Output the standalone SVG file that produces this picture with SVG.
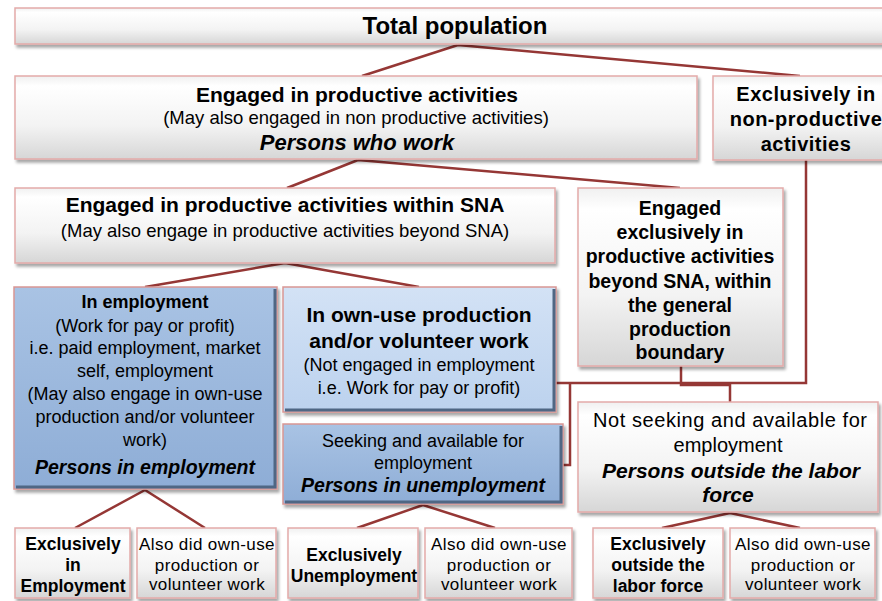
<svg xmlns="http://www.w3.org/2000/svg" width="882" height="601" viewBox="0 0 882 601">
<defs>
<linearGradient id="gw" x1="0" y1="0" x2="0" y2="1">
<stop offset="0" stop-color="#f0f0f0"/>
<stop offset="0.12" stop-color="#ffffff"/>
<stop offset="0.6" stop-color="#f3f3f3"/>
<stop offset="1" stop-color="#d6d6d6"/>
</linearGradient>
<linearGradient id="gb" x1="0" y1="0" x2="0" y2="1">
<stop offset="0" stop-color="#a9c3e4"/>
<stop offset="1" stop-color="#8eadd6"/>
</linearGradient>
<linearGradient id="gl" x1="0" y1="0" x2="0" y2="1">
<stop offset="0" stop-color="#d3e2f5"/>
<stop offset="1" stop-color="#bcd2ee"/>
</linearGradient>
<filter id="sh" x="-10%" y="-10%" width="120%" height="130%">
<feDropShadow dx="2" dy="3" stdDeviation="1.5" flood-color="#000" flood-opacity="0.35"/>
</filter>
</defs>
<style>
.bx{fill:url(#gw);stroke:#e3aaa9;stroke-width:1.5;filter:url(#sh)}
.bb{fill:url(#gb);stroke:#d99694;stroke-width:1.5;filter:url(#sh)}
.bl{fill:url(#gl);stroke:#d99694;stroke-width:1.5;filter:url(#sh)}
.edge{fill:none;stroke:#4f6784;stroke-width:3}
.cn{fill:none;stroke:#953735;stroke-width:2.5}
text{font-family:"Liberation Sans",Arial,sans-serif;fill:#000;text-anchor:middle}
.b{font-weight:bold}
.bi{font-weight:bold;font-style:italic}
</style>

<g id="connectors">
<path class="cn" d="M458,45 L362,76 M458,45 L800,76"/>
<path class="cn" d="M358,160 L287,188 M358,160 L680,188"/>
<path class="cn" d="M285,263 L145,287 M285,263 L419,287"/>
<path class="cn" d="M145,490 L75,528 M145,490 L205,528"/>
<path class="cn" d="M423,505 L357,528 M423,505 L495,528"/>
<path class="cn" d="M730,513 L662,528 M730,513 L800,528"/>
<path class="cn" d="M806,160 V383 H555 M570,383 V465 H563 M681,366 V385 H730 V402"/>
</g>

<g id="total-population">
<rect class="bx" x="15" y="8" width="880" height="36"/>
<text class="b" x="455" y="34" font-size="24">Total population</text>
</g>

<g id="productive">
<rect class="bx" x="15" y="76" width="682" height="83"/>
<text class="b" x="357" y="102" font-size="21">Engaged in productive activities</text>
<text x="356" y="124" font-size="18.5">(May also engaged in non productive activities)</text>
<text class="bi" x="357" y="150" font-size="22">Persons who work</text>
</g>

<g id="non-productive">
<rect class="bx" x="713" y="76" width="180" height="84"/>
<text class="b" x="806" y="101" font-size="20" letter-spacing="0.5">Exclusively in</text>
<text class="b" x="806" y="126" font-size="20" letter-spacing="0.5">non-productive</text>
<text class="b" x="806" y="151" font-size="20" letter-spacing="0.5">activities</text>
</g>

<g id="within-sna">
<rect class="bx" x="15" y="188" width="540" height="75"/>
<text class="b" x="285" y="212" font-size="21">Engaged in productive activities within SNA</text>
<text x="285" y="237" font-size="18.5">(May also engage in productive activities beyond SNA)</text>
</g>

<g id="beyond-sna">
<rect class="bx" x="578" y="188" width="205" height="178"/>
<g class="b" font-size="19.5">
<text x="680" y="215">Engaged</text>
<text x="680" y="239">exclusively in</text>
<text x="680" y="263">productive activities</text>
<text x="680" y="288">beyond SNA, within</text>
<text x="680" y="312">the general</text>
<text x="680" y="336">production</text>
<text x="680" y="359">boundary</text>
</g>
</g>

<g id="in-employment">
<rect class="bb" x="14" y="287" width="263" height="202"/>
<path class="edge" d="M16,487 H275 V289"/>
<text class="b" x="145" y="308" font-size="18">In employment</text>
<g font-size="18">
<text x="145" y="332">(Work for pay or profit)</text>
<text x="145" y="354">i.e. paid employment, market</text>
<text x="145" y="377">self, employment</text>
<text x="145" y="400">(May also engage in own-use</text>
<text x="145" y="423">production and/or volunteer</text>
<text x="145" y="446">work)</text>
</g>
<text class="bi" x="145" y="474" font-size="19.5">Persons in employment</text>
</g>

<g id="own-use">
<rect class="bl" x="283" y="287" width="273" height="125"/>
<path class="edge" d="M285,410 H554 V289" stroke="#6d7f95"/>
<text class="b" x="419" y="322" font-size="21">In own-use production</text>
<text class="b" x="419" y="348" font-size="21">and/or volunteer work</text>
<text x="419" y="371" font-size="18">(Not engaged in employment</text>
<text x="419" y="394" font-size="18">i.e. Work for pay or profit)</text>
</g>

<g id="unemployment">
<rect class="bb" x="283" y="424" width="280" height="80"/>
<path class="edge" d="M285,502 H561 V426"/>
<text x="423" y="447" font-size="18">Seeking and available for</text>
<text x="423" y="469" font-size="18">employment</text>
<text class="bi" x="423" y="492" font-size="19.5">Persons in unemployment</text>
</g>

<g id="outside-labor-force">
<rect class="bx" x="578" y="402" width="300" height="110"/>
<text x="730" y="427" font-size="20" textLength="274" lengthAdjust="spacing">Not seeking and available for</text>
<text x="728" y="452" font-size="20">employment</text>
<text class="bi" x="731" y="478" font-size="21">Persons outside the labor</text>
<text class="bi" x="728" y="502" font-size="21">force</text>
</g>

<g id="excl-employment">
<rect class="bx" x="15" y="528" width="115" height="70"/>
<g class="b" font-size="17.5">
<text x="73" y="550">Exclusively</text>
<text x="73" y="571">in</text>
<text x="73" y="592">Employment</text>
</g>
</g>

<g id="also-employment">
<rect class="bx" x="137" y="528" width="139" height="70"/>
<g font-size="17" letter-spacing="0.4">
<text x="207" y="550">Also did own-use</text>
<text x="207" y="571">production or</text>
<text x="207" y="590">volunteer work</text>
</g>
</g>

<g id="excl-unemployment">
<rect class="bx" x="288" y="528" width="130" height="70"/>
<g class="b" font-size="17.5">
<text x="354" y="561">Exclusively</text>
<text x="354" y="582">Unemployment</text>
</g>
</g>

<g id="also-unemployment">
<rect class="bx" x="425" y="528" width="147" height="70"/>
<g font-size="17" letter-spacing="0.4">
<text x="499" y="550">Also did own-use</text>
<text x="499" y="571">production or</text>
<text x="499" y="590">volunteer work</text>
</g>
</g>

<g id="excl-outside">
<rect class="bx" x="593" y="528" width="130" height="70"/>
<g class="b" font-size="17.5">
<text x="658" y="550">Exclusively</text>
<text x="658" y="571">outside the</text>
<text x="658" y="592">labor force</text>
</g>
</g>

<g id="also-outside">
<rect class="bx" x="730" y="528" width="145" height="70"/>
<g font-size="17" letter-spacing="0.4">
<text x="803" y="550">Also did own-use</text>
<text x="803" y="571">production or</text>
<text x="803" y="590">volunteer work</text>
</g>
</g>
</svg>
